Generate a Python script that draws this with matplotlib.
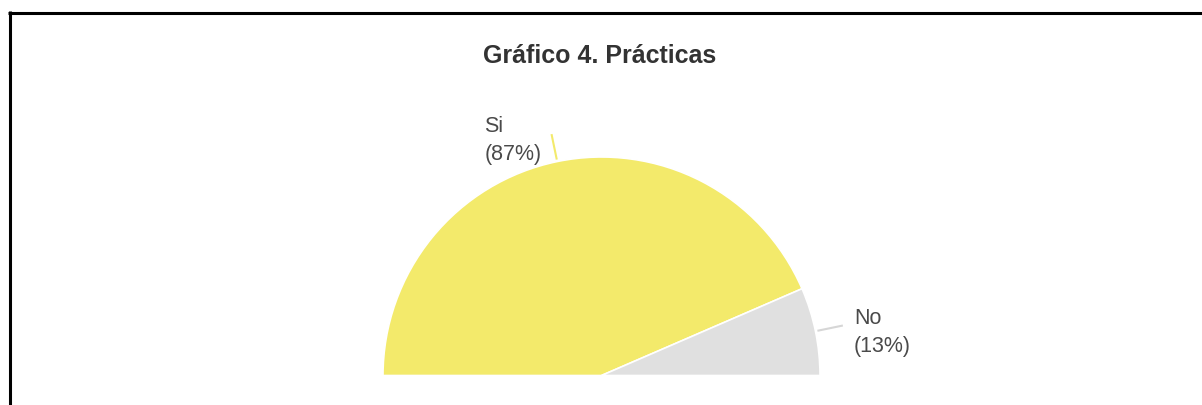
import numpy as np
import matplotlib
matplotlib.use("Agg")
import matplotlib.pyplot as plt
from matplotlib.lines import Line2D

# data
labels = ["Si", "No"]
values = [87, 13]
colors = ["#F3EA6B", "#E0E0E0"]
title = "Gráfico 4. Prácticas"

W, H = 1202, 405
fig = plt.figure(figsize=(W / 100, H / 100), dpi=100)
ax = fig.add_axes([0, 0, 1, 1])
ax.set_xlim(0, W)
ax.set_ylim(0, H)
ax.set_aspect("equal")
ax.axis("off")

# half pie: a hidden slice equal to the total fills the lower half
cx, cy, r = 601.5, H - 375.5, 218.5
wedges, _ = ax.pie(values + [sum(values)],
                   colors=colors + ["none"],
                   startangle=180, counterclock=False,
                   center=(cx, cy), radius=r,
                   wedgeprops=dict(edgecolor="white", linewidth=1.2))
wedges[-1].set_edgecolor("none")
ax.set_xlim(0, W)
ax.set_ylim(0, H)

# crop the pie at its diameter
clip = plt.Rectangle((0, H - 374), W, H, transform=ax.transData)
for w in wedges:
    w.set_clip_path(clip)

# leader lines and labels
total = sum(values)
for w, lab, v, col in zip(wedges[:-1], labels, values, colors):
    mid = np.deg2rad((w.theta1 + w.theta2) / 2)
    x0, y0 = cx + (r + 2) * np.cos(mid), cy + (r + 2) * np.sin(mid)
    x1, y1 = cx + (r + 28) * np.cos(mid), cy + (r + 28) * np.sin(mid)
    lc = col if lab == "Si" else "#D6D6D6"
    ax.plot([x0, x1], [y0, y1], color=lc, lw=1.5, solid_capstyle="butt")
    txt = f"{lab}\n({v / total * 100:.0f}%)"
    if np.cos(mid) < 0:
        ax.text(x1 - 10, y1 - 6, txt, ha="right", va="center",
                multialignment="left", fontsize=15.5, color="#4a4a4a",
                family="Liberation Sans", linespacing=1.45)
    else:
        ax.text(x1 + 11, y1 - 7, txt, ha="left", va="center",
                multialignment="left", fontsize=15.5, color="#4a4a4a",
                family="Liberation Sans", linespacing=1.45)

ax.text(600, H - 56, title, ha="center", va="center", fontsize=18,
        fontweight="bold", color="#333333", family="Liberation Sans")

# frame (left and top edges of the screenshot)
fig.add_artist(Line2D([9.5 / W, 9.5 / W], [0, 1 - 11 / H], color="black", lw=2.2,
                      solid_capstyle="butt", transform=fig.transFigure))
fig.add_artist(Line2D([8 / W, 1], [1 - 12.5 / H, 1 - 12.5 / H], color="black", lw=2.2,
                      solid_capstyle="butt", transform=fig.transFigure))

fig.savefig("out.png", dpi=100, facecolor="white")
